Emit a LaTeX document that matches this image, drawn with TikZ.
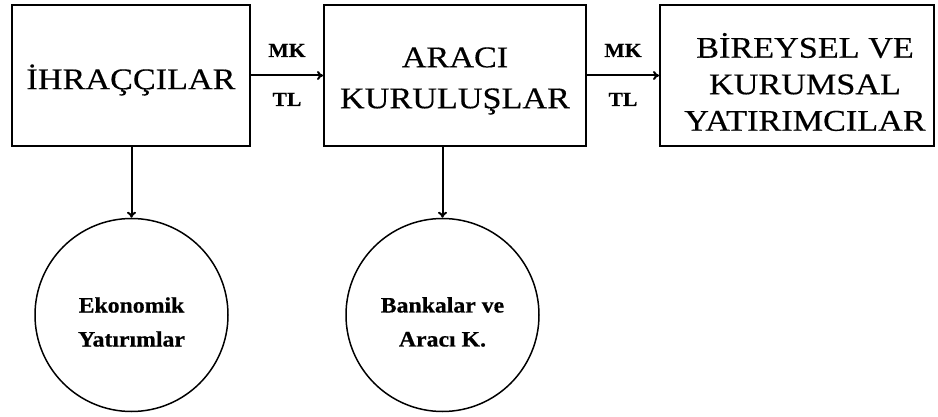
\documentclass[tikz,border=0pt]{standalone}
\usepackage{fontspec}
\setmainfont{Liberation Serif}
\newfontfamily\wideserif[FakeStretch=1.14,FakeBold=0.4]{Liberation Serif}
\newfontfamily\widebold[FakeStretch=1.08,FakeBold=0.6]{Liberation Serif Bold}
\usetikzlibrary{arrows.meta}
\begin{document}
\begin{tikzpicture}[x=1pt,y=-1pt,
  box/.style={draw, line width=1.9pt, inner sep=0pt, minimum height=141pt},
  circ/.style={draw, circle, line width=1.5pt, minimum size=193pt, inner sep=0pt},
  big/.style={font=\wideserif\fontsize{30}{41}\selectfont, align=center, inner sep=0pt},
  lab/.style={font=\widebold\fontsize{20}{20}\selectfont, inner sep=0pt, anchor=base},
  ctext/.style={font=\widebold\fontsize{22}{34}\selectfont, align=center, inner sep=0pt},
  arr/.style={-{To[length=6pt,width=9pt]}, line width=2pt}]
\useasboundingbox (0,0) rectangle (938,417);
% boxes
\node[box, minimum width=238pt] (b1) at (131,75.5) {};
\node[box, minimum width=262pt] (b2) at (455,75.5) {};
\node[box, minimum width=274pt] (b3) at (797,75.5) {};
\node[big] (t1) at (131,80) {İHRAÇÇILAR};
\node[big] (t2) at (455,81) {ARACI\\KURULUŞLAR};
\node[big, font=\wideserif\fontsize{30}{36.5}\selectfont] (t3) at (805,82) {BİREYSEL VE\\KURUMSAL\\YATIRIMCILAR};
% circles
\node[circ] (c1) at (131.5,315) {};
\node[circ] (c2) at (442.5,315) {};
\node[ctext] (e1) at (131.5,322) {Ekonomik\\Yatırımlar};
\node[ctext] (e2) at (442.5,322) {Bankalar ve\\Aracı K.};
% arrows
\draw[arr] (b1.east) -- (b2.west);
\draw[arr] (b2.east) -- (b3.west);
\draw[arr] (b1.south -| c1.north) -- (c1.north);
\draw[arr] (b2.south -| c2.north) -- (c2.north);
% labels
\node[lab] (mk1) at (287,57) {MK};
\node[lab] (tl1) at (287,106) {TL};
\node[lab] (mk2) at (623,57) {MK};
\node[lab] (tl2) at (623,106) {TL};
\end{tikzpicture}
\end{document}
